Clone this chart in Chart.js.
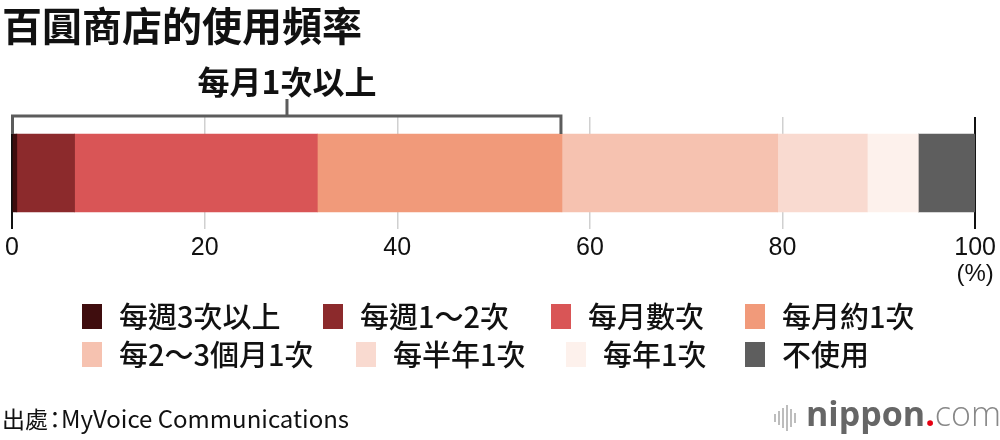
<!DOCTYPE html>
<html>
<head>
<meta charset="utf-8">
<script src="https://cdn.jsdelivr.net/npm/chart.js@4.4.1/dist/chart.umd.min.js"></script>
<style>
html,body{margin:0;padding:0;background:#fff;}
#wrap{position:relative;width:1000px;height:440px;}
</style>
</head>
<body>
<div id="wrap"><canvas id="c" width="1000" height="440"></canvas></div>
<script>
// ---- data ----
const title = '百圓商店的使用頻率';
const bracketLabel = '每月1次以上';
const categories = ['百圓商店'];
const seriesLabels = ['每週3次以上','每週1〜2次','每月數次','每月約1次','每2〜3個月1次','每半年1次','每年1次','不使用'];
const seriesValues = [0.5, 6.0, 25.2, 25.4, 22.4, 9.3, 5.3, 5.9];
const seriesColors = ['#3f0d0e','#8c2a2c','#d95556','#f19a7a','#f6c2b0','#f9dad0','#fdf1ec','#5e5e5e'];
const tickValues = [0, 20, 40, 60, 80, 100];
const tickLabels = ['0','20','40','60','80','100'];
const unitLabel = '(%)';
const bracketCount = 4; // first four series = 每月1次以上
const sourceHead = '出處';
const sourceSep = '：';
const sourceName = 'MyVoice Communications';

// legend layout (positions only)
const legendPos = [
  [82,316],[323,316],[551,316],[745,316],
  [82,354],[356,354],[566,354],[745,354]
];

const CJK = '"Noto Sans CJK TC","Noto Sans CJK JP",sans-serif';

const datasets = seriesLabels.map((l,i)=>({
  label:l, data:[seriesValues[i]], backgroundColor:seriesColors[i],
  borderWidth:0, barThickness:78
}));

const decor = {
  id:'decor',
  afterDraw(chart){
    const ctx = chart.ctx, xs = chart.scales.x, ca = chart.chartArea;
    ctx.save();
    // title
    ctx.fillStyle = '#111';
    ctx.font = '700 40px ' + CJK;
    ctx.textBaseline = 'middle';
    ctx.textAlign = 'left';
    ctx.fillText(title, 2, 26);
    // bracket
    let cum = 0;
    for (let i=0;i<bracketCount;i++) cum += seriesValues[i];
    const x0 = xs.getPixelForValue(0), x1 = xs.getPixelForValue(cum);
    const xm = xs.getPixelForValue(cum/2);
    const meta = chart.getDatasetMeta(0).data[0];
    const barTop = meta.y - meta.height/2;
    const by = ca.top - 1;
    ctx.strokeStyle = '#5c5c5c';
    ctx.lineWidth = 3;
    ctx.beginPath();
    ctx.moveTo(x0+0.5, barTop);
    ctx.lineTo(x0+0.5, by);
    ctx.lineTo(x1-1, by);
    ctx.lineTo(x1-1, barTop);
    ctx.moveTo(xm, by);
    ctx.lineTo(xm, by-17);
    ctx.stroke();
    ctx.fillStyle = '#111';
    ctx.font = '700 32px ' + CJK;
    ctx.textAlign = 'center';
    ctx.fillText(bracketLabel, xm, 82);
    // unit under last tick
    ctx.font = '24px "Liberation Sans",Arial,sans-serif';
    ctx.fillText(unitLabel, xs.getPixelForValue(tickValues[tickValues.length-1]), 274);
    // legend
    ctx.textAlign = 'left';
    ctx.font = '500 29px ' + CJK;
    seriesLabels.forEach((l,i)=>{
      const [lx,ly] = legendPos[i];
      ctx.fillStyle = seriesColors[i];
      ctx.fillRect(lx, ly-12, 20, 25);
      ctx.fillStyle = '#111';
      ctx.fillText(l, lx+37, ly+1);
    });
    // source
    ctx.fillStyle = '#111';
    ctx.font = '400 23px ' + CJK;
    ctx.fillText(sourceHead, 2, 419);
    ctx.textAlign = 'center';
    ctx.fillText(sourceSep, 55, 419);
    ctx.textAlign = 'left';
    ctx.font = '400 24px ' + CJK;
    ctx.fillText(sourceName, 61, 419);
    // logo
    const bars = [[774,8],[778,14],[782,20],[786,26],[790,18],[794,10]];
    ctx.fillStyle = '#bdbdbd';
    bars.forEach(([bx,h])=>{ ctx.fillRect(bx, 418-h/2, 2, h); });
    ctx.textBaseline = 'alphabetic';
    ctx.font = '700 34px "Open Sans",sans-serif';
    ctx.fillStyle = '#666';
    ctx.fillText('nippon', 806, 426);
    let w = ctx.measureText('nippon').width;
    ctx.fillStyle = '#e60012';
    ctx.fillText('.', 806+w, 426);
    let w2 = ctx.measureText('.').width;
    ctx.font = '300 34px "Open Sans",sans-serif';
    ctx.fillStyle = '#888';
    ctx.fillText('com', 806+w+w2, 426);
    ctx.restore();
  }
};

new Chart(document.getElementById('c'), {
  type:'bar',
  data:{ labels:categories, datasets },
  options:{
    indexAxis:'y',
    responsive:false,
    animation:false,
    layout:{ padding:{ left:12, right:23, top:117, bottom:181 } },
    plugins:{ legend:{display:false}, tooltip:{enabled:false}, title:{display:false} },
    scales:{
      x:{
        stacked:true, min:0, max:100,
        afterBuildTicks(scale){ scale.ticks = tickValues.map(v=>({value:v})); },
        afterFit(scale){ scale.height = 30; },
        grid:{
          drawTicks:false,
          color:(c)=> (c.tick && (c.tick.value===0 || c.tick.value===100)) ? '#111' : '#d0d0d0',
          lineWidth:(c)=> (c.tick && (c.tick.value===0 || c.tick.value===100)) ? 2 : 1.5
        },
        border:{display:false},
        ticks:{
          padding:4,
          color:'#111',
          font:{family:'"Liberation Sans",Arial,sans-serif', size:25},
          callback:(v)=> tickLabels[tickValues.indexOf(v)],
          maxRotation:0, autoSkip:false
        }
      },
      y:{ stacked:true, display:false }
    }
  },
  plugins:[decor]
});
</script>
</body>
</html>
